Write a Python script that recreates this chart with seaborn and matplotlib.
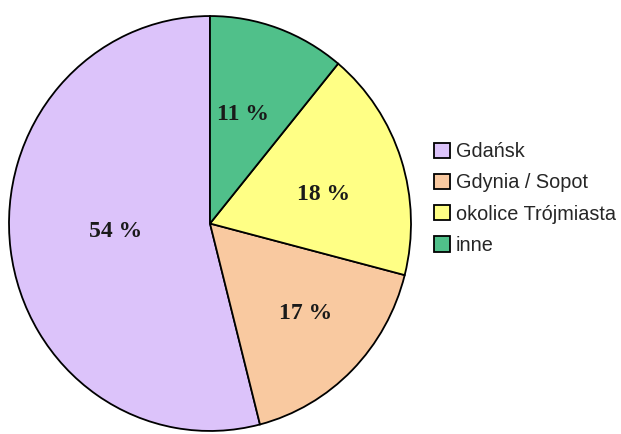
import matplotlib
matplotlib.use("Agg")
import numpy as np
import matplotlib.pyplot as plt
import seaborn as sns

# dane
categories = ["Gdańsk", "Gdynia / Sopot", "okolice Trójmiasta", "inne"]
shares = [54, 17, 18, 11]
colors = ["#DCC3FA", "#F9C9A0", "#FFFF85", "#50C08A"]

# gdzie leżą etykiety procentowe (odległość od środka, przesunięcie kąta)
label_dist = [0.47, 0.63, 0.59, 0.57]
label_shift = [-5, 4, -2, 3]

sns.set_theme(style="white")
plt.rcParams["font.family"] = ["Liberation Sans", "DejaVu Sans"]

fig = plt.figure(figsize=(6.21, 4.34), dpi=100)
W, H = 621, 434
# koło jest w oryginale lekko wydłużone w pionie
ax = fig.add_axes([8 / W, 2 / H, 404 / W, 417 / H])

wedges, texts, autotexts = ax.pie(
    shares,
    colors=colors,
    startangle=90,
    counterclock=True,
    autopct=lambda p: f"{p:.0f} %",
    wedgeprops=dict(edgecolor="black", linewidth=1.3),
    textprops=dict(family=["Liberation Serif", "DejaVu Serif"],
                   fontsize=17, fontweight="bold", color="#1a1a1a"),
)
for w, t, d, s in zip(wedges, autotexts, label_dist, label_shift):
    ang = np.deg2rad((w.theta1 + w.theta2) / 2 + s)
    t.set_position((d * np.cos(ang), d * np.sin(ang) - 0.022))

ax.set_aspect("auto")
ax.set_xlim(-1.005, 1.005)
ax.set_ylim(-1.005, 1.005)
ax.axis("off")

fig.legend(
    wedges, categories,
    loc="upper left",
    bbox_to_anchor=(434 / W, 1 - 142 / H),
    frameon=False,
    fontsize=14.3,
    handlelength=0.8,
    handleheight=0.8,
    handletextpad=0.3,
    labelspacing=0.62,
    borderaxespad=0,
    borderpad=0,
)

fig.savefig("out.png", dpi=100, facecolor="white")
